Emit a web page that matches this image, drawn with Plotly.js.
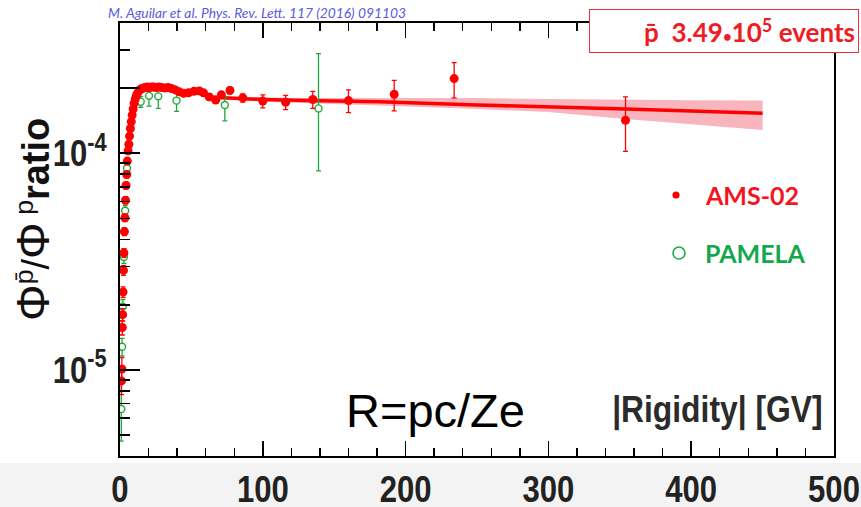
<!DOCTYPE html>
<html>
<head>
<meta charset="utf-8">
<script src="https://cdn.plot.ly/plotly-3.0.1.min.js"></script>
<style>
html,body{margin:0;padding:0;background:#fff;}
#chart{width:861px;height:507px;}
</style>
</head>
<body>
<div id="chart"></div>
<script>
// ---- data ----
const amsR = [1.05,1.3,1.6,1.85,2.15,2.45,2.75,3.1,3.45,3.85,4.25,4.7,5.15,5.65,6.2,6.7,7.3,7.9,8.5,9.2,9.9,10.7,11.5,12.4,13.3,14.3,15.4,16.6,17.8,19.1,20.5,22.0,23.6,25.3,27.2,29.2,31.4,33.7,36.1,38.7,41.5,44.6,48.0,51.8,55.5,58.5,62.5,67,71,77,86,100,116,135,160,192,234,354];
const amsRatio = [8.9e-6,1.01e-5,1.57e-5,1.80e-5,2.29e-5,2.88e-5,3.47e-5,4.35e-5,5.04e-5,6.07e-5,7.1e-5,7.98e-5,9.2e-5,1.026e-4,1.10e-4,1.20e-4,1.30e-4,1.40e-4,1.50e-4,1.60e-4,1.70e-4,1.78e-4,1.85e-4,1.90e-4,1.94e-4,1.97e-4,1.99e-4,2.00e-4,2.01e-4,2.02e-4,2.01e-4,2.02e-4,2.02e-4,2.01e-4,2.02e-4,2.01e-4,2.00e-4,2.01e-4,1.99e-4,1.96e-4,1.92e-4,1.89e-4,1.90e-4,1.93e-4,1.94e-4,1.90e-4,1.82e-4,1.76e-4,1.86e-4,1.95e-4,1.80e-4,1.74e-4,1.72e-4,1.77e-4,1.75e-4,1.87e-4,2.21e-4,1.42e-4];
const amsErr = [1.2e-6,1.3e-6,1.2e-6,1.2e-6,1.3e-6,1.5e-6,1.6e-6,1.8e-6,2.0e-6,2.3e-6,2.6e-6,2.8e-6,3.0e-6,3.2e-6,3.3e-6,3.5e-6,3.6e-6,3.8e-6,3.9e-6,4.0e-6,4.1e-6,4.1e-6,4.2e-6,4.2e-6,4.2e-6,4.2e-6,4.2e-6,4.2e-6,4.2e-6,4.3e-6,4.3e-6,4.4e-6,4.4e-6,4.5e-6,4.6e-6,4.7e-6,4.8e-6,4.9e-6,5.0e-6,5.1e-6,5.2e-6,5.3e-6,5.4e-6,5.5e-6,5.6e-6,5.8e-6,6.0e-6,6.2e-6,6.5e-6,7e-6,8e-6,1.2e-5,1.3e-5,1.6e-5,2.1e-5,3.0e-5,4.1e-5,4.0e-5];

const pamR = [0.9,1.45,1.95,2.7,3.6,4.9,14.5,20.3,26.8,39.6,73.4,139];
const pamRatio = [6.6e-6,1.28e-5,1.96e-5,3.32e-5,5.43e-5,8.52e-5,1.73e-4,1.84e-4,1.83e-4,1.75e-4,1.67e-4,1.61e-4];
const pamErrUp = [2.0e-6,1.2e-6,1.5e-6,2.2e-6,3.0e-6,4.5e-6,1.0e-5,1.7e-5,2.0e-5,1.9e-5,1.5e-5,1.27e-4];
const pamErrDown = [1.9e-6,1.2e-6,1.5e-6,2.2e-6,3.0e-6,4.5e-6,1.0e-5,1.9e-5,2.2e-5,1.9e-5,2.6e-5,7.8e-5];

const fitR = [60,72,100,130,182,250,300,354,400,450];
const fitRatio = [1.82e-4,1.80e-4,1.77e-4,1.75e-4,1.73e-4,1.67e-4,1.64e-4,1.60e-4,1.565e-4,1.53e-4];
const fitLow = [1.78e-4,1.77e-4,1.73e-4,1.70e-4,1.66e-4,1.60e-4,1.55e-4,1.44e-4,1.36e-4,1.28e-4];
const fitHigh = [1.86e-4,1.83e-4,1.81e-4,1.80e-4,1.80e-4,1.80e-4,1.78e-4,1.76e-4,1.755e-4,1.75e-4];

const xTickVals = [0,100,200,300,400,500];
const xTickText = ['0','100','200','300','400','500'];
const yTickVals = [1e-5,1e-4,2e-4];
const yTickText = ['10<sup>-5</sup>','10<sup>-4</sup>',''];
const yMinorVals = [5e-6,6e-6,7e-6,8e-6,9e-6,2e-5,3e-5,4e-5,5e-5,6e-5,7e-5,8e-5,9e-5,3e-4];

// ---- layout geometry helpers (pixels -> paper) ----
const L=120, R=834, T=23, B=456;
const px = p => (p-L)/(R-L);
const py = p => (B-p)/(B-T);

const RED='#ff0000', GREEN='#22a83a';
const heavy='Liberation Sans, Arial, sans-serif';

const traces = [
  {x: fitR, y: fitHigh, mode:'lines', line:{width:0, color:'rgba(0,0,0,0)'}, hoverinfo:'skip', showlegend:false},
  {x: fitR, y: fitLow, mode:'lines', line:{width:0, color:'rgba(0,0,0,0)'}, fill:'tonexty', fillcolor:'rgba(247,168,178,0.85)', hoverinfo:'skip', showlegend:false},
  {x: fitR, y: fitRatio, mode:'lines', line:{width:3.5, color:RED}, showlegend:false},
  {x: pamR, y: pamRatio, mode:'markers', name:'PAMELA',
   marker:{symbol:'circle', size:7, color:'#ffffff', line:{color:GREEN, width:1.4}},
   error_y:{type:'data', symmetric:false, array:pamErrUp, arrayminus:pamErrDown, color:GREEN, thickness:1.3, width:2.5},
   showlegend:false},
  {x: amsR, y: amsRatio, mode:'markers', name:'AMS-02',
   marker:{symbol:'circle', size:9, color:RED},
   error_y:{type:'data', array:amsErr, color:RED, thickness:1.3, width:2.5},
   showlegend:false}
];

const layout = {
  width:861, height:507,
  margin:{l:L, r:861-R, t:T, b:507-B},
  paper_bgcolor:'#ffffff', plot_bgcolor:'rgba(0,0,0,0)',
  showlegend:false,
  xaxis:{
    range:[0,500], showgrid:false, zeroline:false,
    showline:true, linecolor:'#000', linewidth:2, mirror:'ticks',
    ticks:'inside', ticklen:15, tickwidth:1.6, tickcolor:'#000',
    tickmode:'array', tickvals:xTickVals, ticktext:xTickText,
    tickfont:{family:heavy, size:37, color:'#222', weight:'bold'},
    ticklabelstandoff:0, ticklabeloverflow:'allow',
    minor:{ticks:'inside', dtick:20, tick0:0, ticklen:8, tickwidth:1.4, tickcolor:'#000', showgrid:false}
  },
  yaxis:{
    type:'log', range:[-5.397,-3.399], showgrid:false, zeroline:false,
    showline:true, linecolor:'#000', linewidth:2, mirror:true,
    ticks:'inside', ticklen:20, tickwidth:1.8, tickcolor:'#000',
    tickmode:'array', tickvals:yTickVals, ticktext:yTickText,
    tickfont:{family:heavy, size:37, color:'#222', weight:'bold'},
    ticklabelstandoff:4, ticklabeloverflow:'allow',
    minor:{ticks:'inside', tickmode:'array', tickvals:yMinorVals, ticklen:10, tickwidth:1.6, tickcolor:'#000', showgrid:false}
  },
  shapes:[
    {type:'rect', xref:'paper', yref:'paper', x0:px(0), x1:px(861), y0:py(463), y1:py(520), fillcolor:'#f3f3f3', line:{width:0}, layer:'below'},
    {type:'circle', xref:'paper', yref:'paper', xsizemode:'pixel', ysizemode:'pixel',
     xanchor:px(676), yanchor:py(195), x0:-3.6, x1:3.6, y0:-3.6, y1:3.6, fillcolor:RED, line:{width:0}},
    {type:'circle', xref:'paper', yref:'paper', xsizemode:'pixel', ysizemode:'pixel',
     xanchor:px(679), yanchor:py(253), x0:-6, x1:6, y0:-6, y1:6, fillcolor:'rgba(0,0,0,0)', line:{width:1.6, color:'#22aa44'}}
  ],
  annotations:[
    {xref:'paper', yref:'paper', x:px(106), y:py(12), xanchor:'left', yanchor:'middle', showarrow:false,
     text:'<i>M. Aguilar et al. Phys. Rev. Lett. 117 (2016) 091103</i>',
     font:{family:'Lato, Open Sans, sans-serif', size:13.8, color:'#5a5ae0'}},
    {xref:'paper', yref:'paper', x:px(589), y:py(31), xanchor:'left', yanchor:'middle', showarrow:false,
     text:'<b>p\u0304  3.49<span style="font-size:15px">\u2022</span>10<sup>5</sup> events</b>', align:'right', width:262, height:36,
     bgcolor:'#ffffff', bordercolor:'#e8323a', borderwidth:1, borderpad:3,
     font:{family:'Lato, Open Sans, sans-serif', size:26, color:'#ee1c25'}},
    {xref:'paper', yref:'paper', x:px(703), y:py(195), xanchor:'left', yanchor:'middle', showarrow:false,
     text:'<b>AMS-02</b>', font:{family:'Lato, Open Sans, sans-serif', size:25, color:'#f5141e'}},
    {xref:'paper', yref:'paper', x:px(703), y:py(253), xanchor:'left', yanchor:'middle', showarrow:false,
     text:'<b>PAMELA</b>', font:{family:'Lato, Open Sans, sans-serif', size:25, color:'#14a84c'}},
    {xref:'paper', yref:'paper', x:px(435), y:py(410), xanchor:'center', yanchor:'middle', showarrow:false,
     text:'R=pc/Ze', font:{family:'Liberation Sans, Arial, sans-serif', size:47, color:'#000'}},
    {xref:'paper', yref:'paper', x:px(717), y:py(410), xanchor:'center', yanchor:'middle', showarrow:false,
     text:'<b>|Rigidity| [GV]</b>', font:{family:heavy, size:37, color:'#2b2b2b'}},
    {xref:'paper', yref:'paper', x:px(33), y:py(220), xanchor:'center', yanchor:'middle', showarrow:false, textangle:-90,
     text:'<span style="font-size:46px">\u03A6</span><sup>p\u0304</sup>/<span style="font-size:46px">\u03A6</span><sup> p</sup><b>ratio</b>',
     font:{family:'Liberation Sans, DejaVu Sans, sans-serif', size:38, color:'#111'}}
  ]
};

// squeeze bold labels horizontally (condensed look of the reference), keeping their anchor point
function squeeze(el, factor, anchor){
  const w = el.getComputedTextLength();
  if (!(w > 0)) return;
  const b0 = el.getBBox();
  const target = anchor === 'end' ? b0.x + b0.width : b0.x + b0.width/2;
  el.setAttribute('textLength', (w*factor).toFixed(2));
  el.setAttribute('lengthAdjust', 'spacingAndGlyphs');
  const b1 = el.getBBox();
  const now = anchor === 'end' ? b1.x + b1.width : b1.x + b1.width/2;
  const dx = target - now;
  const x0 = parseFloat(el.getAttribute('x') || '0');
  el.setAttribute('x', (x0 + dx).toFixed(2));
  el.querySelectorAll('tspan[x]').forEach(ts => {
    ts.setAttribute('x', (parseFloat(ts.getAttribute('x')) + dx).toFixed(2));
  });
}
Plotly.newPlot('chart', traces, layout, {displayModeBar:false, staticPlot:true}).then(gd => {
  gd.querySelectorAll('.xtick text').forEach(t => squeeze(t, 0.84, 'middle'));
  gd.querySelectorAll('.ytick text').forEach(t => squeeze(t, 0.84, 'end'));
  gd.querySelectorAll('.annotation-text').forEach(t => {
    if (t.textContent.indexOf('Rigidity') >= 0) squeeze(t, 0.86, 'middle');
  });
});
</script>
</body>
</html>
